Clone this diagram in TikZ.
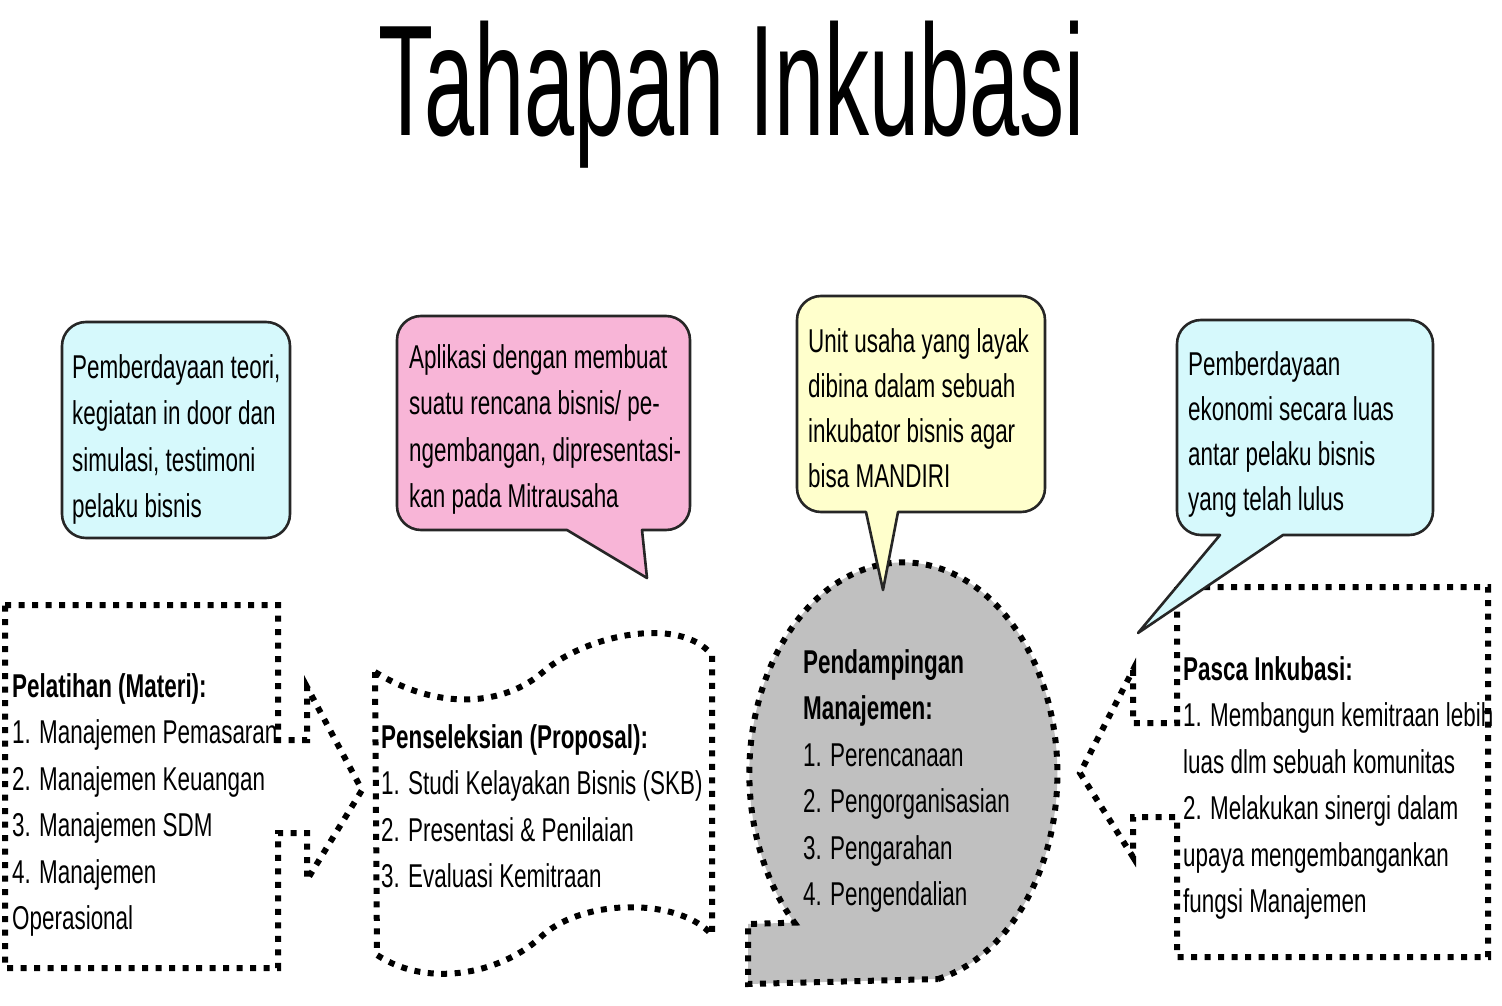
\documentclass[tikz,border=0pt]{standalone}
\usepackage{fontspec}
\setmainfont{Liberation Sans}[FakeStretch=0.68]
\newfontfamily\titlefont{Liberation Sans}[FakeStretch=0.57]

\definecolor{bubblecyan}{HTML}{D6F9FC}
\definecolor{bubblepink}{HTML}{F8B5D7}
\definecolor{bubbleyellow}{HTML}{FFFFCC}
\definecolor{storagegray}{HTML}{C0C0C0}

\tikzset{
  dotline/.style={draw=black, line width=6pt, dash pattern=on 6pt off 7.5pt},
  bubble/.style={draw=black!85, line width=2.6pt, line join=round},
  body/.style={anchor=base west, inner sep=0pt, align=left,
    font=\fontsize{33}{46.5}\selectfont},
}

% rounded speech bubble with its tail on the bottom edge
\newcommand{\bubble}[8]{%
  \draw[bubble, fill=#1] ({(#2+#4)/2},#3) [rounded corners=24pt] -- (#4,#3) -- (#4,#5) [sharp corners] -- (#6,#5) -- #7 -- (#8,#5) [rounded corners=24pt] -- (#2,#5) -- (#2,#3) -- cycle;}

\begin{document}
\begin{tikzpicture}[x=1pt, y=-1pt]
\useasboundingbox[fill=white] (0,0) rectangle (1502,1006);

\node[anchor=base, inner sep=0pt, font=\titlefont\fontsize{158}{160}\selectfont] (title) at (732,136) {Tahapan Inkubasi};

%\draw[step=100,gray,very thin] (0,0) grid (1502,1006);

% pelatihan, arrow to the right
\draw[dotline] (5,605) -- (278,605) -- (278,740) -- (307,740) -- (307,687) -- (362,790) -- (307,880) -- (307,833) -- (278,833) -- (278,968) -- (5,968) -- cycle;

% penseleksian, punched tape
\draw[dotline] (375,672) .. controls (440,712) and (505,705) .. (543,672) .. controls (585,635) and (680,615) .. (712,655) -- (712,935) .. controls (680,898) and (585,898) .. (543,935) .. controls (505,972) and (430,990) .. (377,955) -- cycle;

% pendampingan, storage
\draw[dotline, fill=storagegray] (938,979) arc[start angle=77, end angle=-225, x radius=154, y radius=211] -- (748,924) -- (748,984) -- cycle;

% pasca inkubasi, arrow to the left
\draw[dotline] (1177,587) -- (1488,587) -- (1488,957) -- (1177,957) -- (1177,817) -- (1133,817) -- (1133,857) -- (1080,773) -- (1133,670) -- (1133,723) -- (1177,723) -- cycle;

% base of a node = baseline of its last line
\node[body] (pelatihan) at (12,929.5) {\textbf{Pelatihan (Materi):}\\1. Manajemen Pemasaran\\2. Manajemen Keuangan\\3. Manajemen SDM\\4. Manajemen\\Operasional};
\node[body] (seleksi) at (381,887.5) {\textbf{Penseleksian (Proposal):}\\1. Studi Kelayakan Bisnis (SKB)\\2. Presentasi \& Penilaian\\3. Evaluasi Kemitraan};
\node[body] (pendampingan) at (803,905.5) {\textbf{Pendampingan}\\\textbf{Manajemen:}\\1. Perencanaan\\2. Pengorganisasian\\3. Pengarahan\\4. Pengendalian};
\node[body] (pasca) at (1183,912.5) {\textbf{Pasca Inkubasi:}\\1. Membangun kemitraan lebih\\luas dlm sebuah komunitas\\2. Melakukan sinergi dalam\\upaya mengembangankan\\fungsi Manajemen};

% callouts
\draw[bubble, fill=bubblecyan, rounded corners=24pt] (62,322) rectangle (290,538);
\bubble{bubblepink}{397}{316}{690}{530}{642}{(647,578)}{567}
\bubble{bubbleyellow}{797}{296}{1045}{512}{898}{(883,590)}{866}
\bubble{bubblecyan}{1177}{320}{1433}{535}{1283}{(1138,633)}{1220}

\node[body] (teori) at (72,517.5) {Pemberdayaan teori,\\kegiatan in door dan\\simulasi, testimoni\\pelaku bisnis};
\node[body] (aplikasi) at (409,507.5) {Aplikasi dengan membuat\\suatu rencana bisnis/ pe-\\ngembangan, dipresentasi-\\kan pada Mitrausaha};
\node[body, font=\fontsize{33}{45}\selectfont] (mandiri) at (808,487) {Unit usaha yang layak\\dibina dalam sebuah\\inkubator bisnis agar\\bisa MANDIRI};
\node[body, font=\fontsize{33}{45}\selectfont] (ekonomi) at (1188,510) {Pemberdayaan\\ekonomi secara luas\\antar pelaku bisnis\\yang telah lulus};

\end{tikzpicture}
\end{document}
